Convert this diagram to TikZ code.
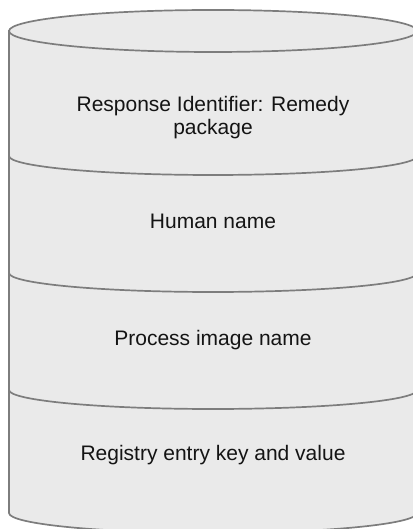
\documentclass[tikz,border=0pt]{standalone}
\usepackage{fontspec}
\setmainfont{Liberation Sans}
\definecolor{drumfill}{RGB}{234,234,234}
\definecolor{drumline}{RGB}{125,125,125}
\definecolor{labeltext}{RGB}{20,20,20}
\begin{document}
\begin{tikzpicture}[x=1bp,y=1bp,
  drum/.style={draw=drumline, line width=1.7bp, fill=drumfill},
  divider/.style={draw=drumline, line width=1.7bp},
  label/.style={text=labeltext, inner sep=0pt, align=center,
    font=\fontsize{21bp}{23bp}\selectfont, anchor=base}]
  \useasboundingbox (0,0) rectangle (412,529);
  % cylinder body with rounded bottom
  \path[drum] (9,498) -- (9,16)
    arc[start angle=180, end angle=360, x radius=204, y radius=20]
    -- (417,498) -- cycle;
  % top lid
  \path[drum] (213,498) ellipse[x radius=204, y radius=21];
  % section dividers
  \foreach \yy in {373,256,139}
    \draw[divider] (9,\yy) arc[start angle=180, end angle=360, x radius=204, y radius=19];
  % section labels (base anchor sits on the last line)
  \node[label] (resp) at (213,394.7) {Response Identifier: Remedy\\package};
  \node[label] (human) at (213,300.7) {Human name};
  \node[label] (proc) at (213,183) {Process image name};
  \node[label] (reg) at (213,68) {Registry entry key and value};
\end{tikzpicture}
\end{document}
